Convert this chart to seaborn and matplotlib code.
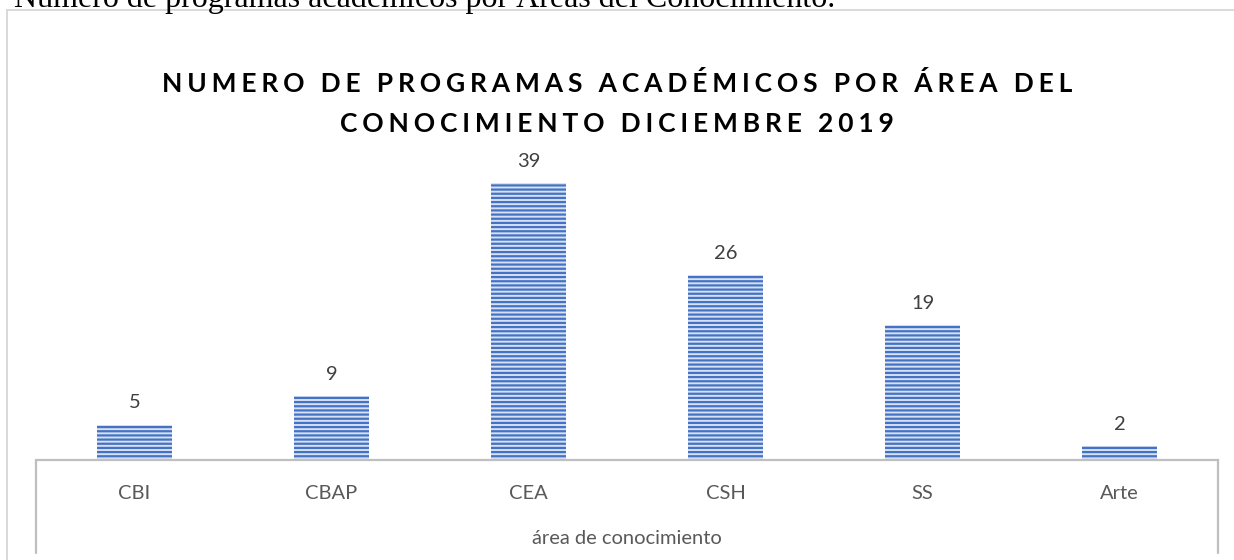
import matplotlib
matplotlib.use("Agg")
import matplotlib.pyplot as plt
import seaborn as sns
from matplotlib.patches import Rectangle
from matplotlib.lines import Line2D

# data
areas = ["CBI", "CBAP", "CEA", "CSH", "SS", "Arte"]
programas = [5, 9, 39, 26, 19, 2]

titulo1 = "NUMERO DE PROGRAMAS ACADÉMICOS POR ÁREA DEL"
titulo2 = "CONOCIMIENTO DICIEMBRE 2019"
caption = "Número de programas académicos por Áreas del Conocimiento."
xlabel = "área de conocimiento"

W, H = 1234, 560

sns.set_style("white")
plt.rcParams["font.family"] = ["Lato", "DejaVu Sans"]
plt.rcParams["hatch.linewidth"] = 1.6

fig = plt.figure(figsize=(W / 100, H / 100), dpi=100)

# axes placed so that the category axis sits where the excel one was
ax_left, ax_right, ax_bottom, ax_top = 36, 1218, 460, 140.5
ax = fig.add_axes([ax_left / W, 1 - ax_bottom / H, (ax_right - ax_left) / W, (ax_bottom - ax_top) / H])

sns.barplot(x=areas, y=programas, width=0.38, color="#4472C4", ax=ax)
for p in ax.patches:
    p.set_facecolor("#d8e1f3")
    p.set_edgecolor("#4472C4")
    p.set_hatch("----")
    p.set_linewidth(0)

ax.set_ylim(0, 45)
ax.set_xlim(-0.5, len(areas) - 0.5)
ax.set_yticks([])
ax.set_xlabel("")
ax.set_ylabel("")
ax.tick_params(axis="x", length=0, pad=18, labelsize=14.5, labelcolor="#595959")
for s in ["top", "left", "right"]:
    ax.spines[s].set_visible(False)
ax.spines["bottom"].set_color("#bfbfbf")
ax.spines["bottom"].set_linewidth(1.6)

# value labels on top of bars
for i, v in enumerate(programas):
    ax.annotate(str(v), (i, v), xytext=(0, 9.5), textcoords="offset points",
                ha="center", va="bottom", fontsize=14.5, color="#404040")

# the two vertical lines that box in the category labels
for xp in (ax_left, ax_right):
    fig.add_artist(Line2D([xp / W, xp / W], [1 - ax_bottom / H, 1 - 553 / H],
                          color="#bfbfbf", lw=1.6))

fig.text((ax_left + ax_right) / 2 / W, 1 - 538 / H, xlabel, ha="center", va="center",
         fontsize=14.5, color="#595959")

# title with wide letter spacing
sp = "\u2009\u200a"
fig.text(617 / W, 1 - 84 / H, sp.join(titulo1), ha="center", va="center",
         fontsize=19, fontweight="bold", color="#000000")
fig.text(617 / W, 1 - 124 / H, sp.join(titulo2), ha="center", va="center",
         fontsize=19, fontweight="bold", color="#000000")

# chart border and document caption above it (both cut by the screenshot)
fig.add_artist(Rectangle((7 / W, -0.1), 1.2, 1 - 10 / H + 0.1, fill=False,
                         edgecolor="#d9d9d9", lw=1.4))
fig.text(14 / W, 1 - 7 / H, caption, ha="left", va="baseline", fontsize=23,
         family=["Liberation Serif"], color="#000000")

fig.savefig("out.png", dpi=100)
